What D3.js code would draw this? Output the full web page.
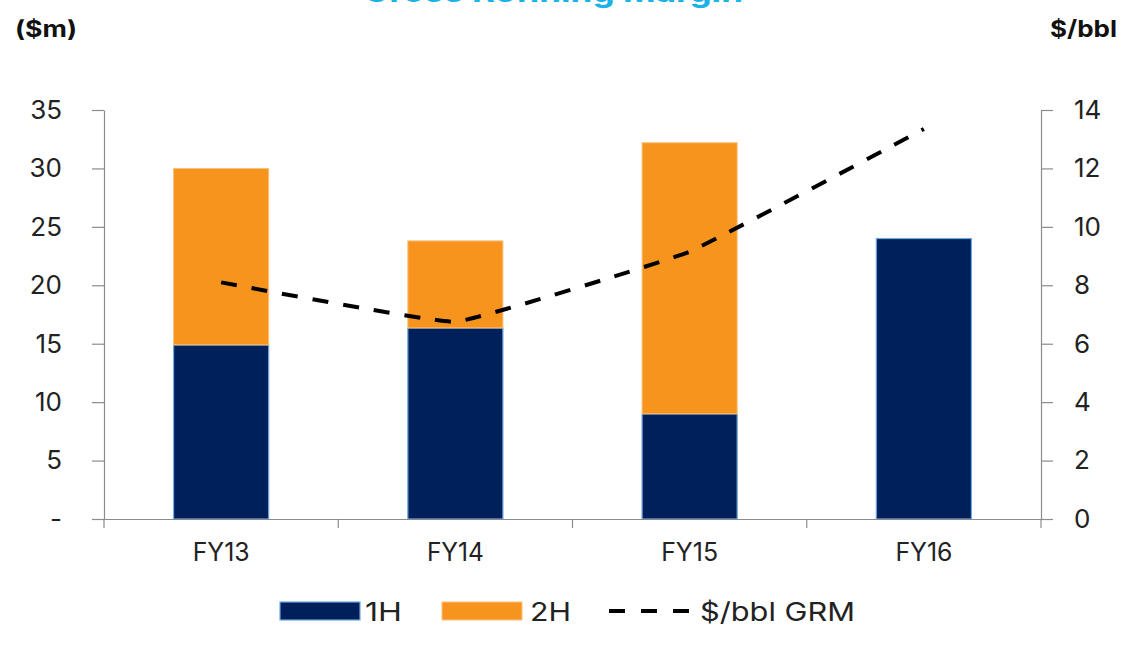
<!DOCTYPE html>
<html><head><meta charset="utf-8">
<script src="https://cdn.jsdelivr.net/npm/d3@7/dist/d3.min.js"></script>
<style>body{margin:0;background:#fff;} svg{display:block;}</style>
</head><body>
<svg id="chart" width="1123" height="648"></svg>
<script>
const categories = ["FY13", "FY14", "FY15", "FY16"];
const h1Values = [14.9, 16.35, 9.0, 24.0];
const h2Values = [15.1, 7.45, 23.2, 0];
const grmValues = [8.1, 6.75, 9.15, 13.35];
const leftTicks = [0, 5, 10, 15, 20, 25, 30, 35];
const leftTickLabels = ["-", "5", "10", "15", "20", "25", "30", "35"];
const rightTicks = [0, 2, 4, 6, 8, 10, 12, 14];
const seriesNames = ["1H", "2H", "$/bbl GRM"];

(function () {
const svg = d3.select("#chart");
const font = "Inter, 'Open Sans', sans-serif";
const pLeft = 104, pRight = 1041, pTop = 110, pBottom = 519;

const x = d3.scaleBand().domain(categories).range([pLeft, pRight]).paddingInner(0.594).paddingOuter(0.297);
const yL = d3.scaleLinear().domain([0, 35]).range([pBottom, pTop]);
const yR = d3.scaleLinear().domain([0, 14]).range([pBottom, pTop]);

function fitWidth(sel, w) {
  sel.each(function () {
    const len = this.getComputedTextLength();
    if (len > 0) d3.select(this).attr("textLength", w).attr("lengthAdjust", "spacingAndGlyphs");
  });
}

// title (cut off at top, as in the reference)
svg.append("text").attr("x", 553).attr("y", 2).attr("text-anchor", "middle")
  .attr("font-family", font).attr("font-weight", 700).attr("font-size", 30)
  .attr("fill", "#19b3e8").text("Gross Refining Margin").call(fitWidth, 380);

svg.append("text").attr("x", 15).attr("y", 37).attr("font-family", font)
  .attr("font-weight", 700).attr("font-size", 23).attr("fill", "#111").text("($m)").call(fitWidth, 62);
svg.append("text").attr("x", 1050).attr("y", 37).attr("font-family", font)
  .attr("font-weight", 700).attr("font-size", 23).attr("fill", "#111").text("$/bbl").call(fitWidth, 67);

// bars
const g = svg.append("g");
categories.forEach((c, i) => {
  g.append("rect").attr("x", x(c)).attr("width", x.bandwidth())
    .attr("y", yL(h1Values[i])).attr("height", yL(0) - yL(h1Values[i]))
    .attr("fill", "#00205c").attr("stroke", "#6fa8dc").attr("stroke-width", 1.2);
  if (h2Values[i] > 0) {
    g.append("rect").attr("x", x(c)).attr("width", x.bandwidth())
      .attr("y", yL(h1Values[i] + h2Values[i])).attr("height", yL(h1Values[i]) - yL(h1Values[i] + h2Values[i]))
      .attr("fill", "#f7941e").attr("stroke", "#fbc27e").attr("stroke-width", 1);
  }
});

// axes
const axisColor = "#8c8c8c";
const la = svg.append("g").attr("transform", `translate(${pLeft},0)`)
  .call(d3.axisLeft(yL).tickValues(leftTicks).tickFormat((d, i) => leftTickLabels[i]).tickSize(12).tickSizeOuter(0));
const ra = svg.append("g").attr("transform", `translate(${pRight},0)`)
  .call(d3.axisRight(yR).tickValues(rightTicks).tickSize(12).tickSizeOuter(0));
const ba = svg.append("g").attr("transform", `translate(0,${pBottom})`)
  .call(d3.axisBottom(x).tickSize(0).tickPadding(24));
const bounds = categories.map(c => x(c) - x.step() * x.paddingInner() / 2).concat([pRight]);
svg.append("g").selectAll("line").data(bounds).join("line")
  .attr("x1", d => d).attr("x2", d => d).attr("y1", pBottom).attr("y2", pBottom + 9)
  .attr("stroke", axisColor).attr("stroke-width", 1.2);

[la, ra, ba].forEach(a => {
  a.selectAll("path, line").attr("stroke", axisColor).attr("stroke-width", 1.2);
  a.selectAll("text").attr("font-family", font).attr("fill", "#222").attr("font-weight", 400);
});
la.selectAll("text").attr("font-size", 26).attr("text-anchor", "end").attr("x", -42);
ra.selectAll("text").attr("font-size", 26).attr("x", 33);
ba.selectAll("text").attr("font-size", 25).call(fitWidth, 57);
ba.select(".domain").attr("d", `M${pLeft - 12},0.5H${pRight}`);

// line
const line = d3.line().x((d, i) => x(categories[i]) + x.bandwidth() / 2).y(d => yR(d)).curve(d3.curveCardinal.tension(0.75));
svg.append("path").datum(grmValues).attr("d", line).attr("fill", "none")
  .attr("stroke", "#000").attr("stroke-width", 4).attr("stroke-dasharray", "16,15");

// legend
const lg = svg.append("g").attr("font-family", font).attr("font-size", 26).attr("fill", "#222");
lg.append("rect").attr("x", 280).attr("y", 602).attr("width", 80).attr("height", 18)
  .attr("fill", "#00205c").attr("stroke", "#6fa8dc").attr("stroke-width", 1.2);
lg.append("text").attr("x", 365).attr("y", 621).text(seriesNames[0]).call(fitWidth, 37);
lg.append("rect").attr("x", 442).attr("y", 602).attr("width", 80).attr("height", 18)
  .attr("fill", "#f7941e").attr("stroke", "#fbc27e").attr("stroke-width", 1);
lg.append("text").attr("x", 530).attr("y", 621).text(seriesNames[1]).call(fitWidth, 41);
lg.append("line").attr("x1", 609).attr("x2", 690).attr("y1", 611).attr("y2", 611)
  .attr("stroke", "#000").attr("stroke-width", 4).attr("stroke-dasharray", "16,16");
lg.append("text").attr("x", 700).attr("y", 621).text(seriesNames[2]).call(fitWidth, 155);
})();
</script>
</body></html>
